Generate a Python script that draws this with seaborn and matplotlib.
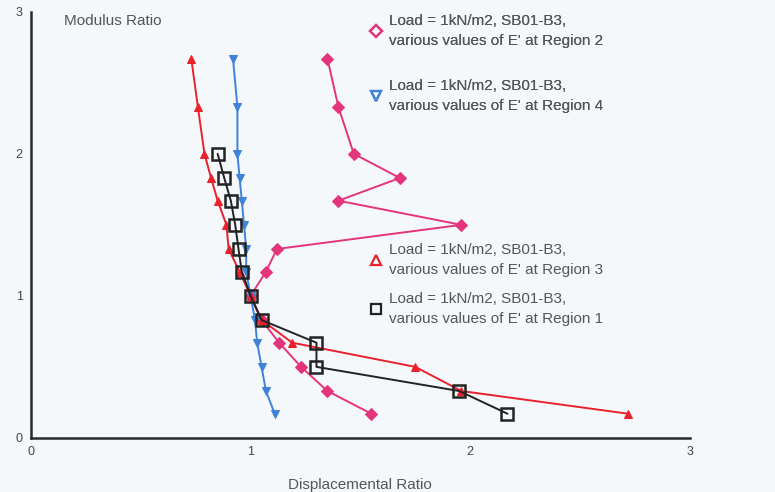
import matplotlib
matplotlib.use("Agg")
import matplotlib.pyplot as plt
from matplotlib.lines import Line2D
import seaborn as sns
import pandas as pd

# Data (displacement ratio vs modulus ratio)
y_levels = [2.67, 2.33, 2.0, 1.83, 1.67, 1.5, 1.33, 1.17, 1.0, 0.83, 0.67, 0.5, 0.33, 0.17]

region2_x = [1.35, 1.40, 1.47, 1.68, 1.40, 1.96, 1.12, 1.07, 1.0, 1.05, 1.13, 1.23, 1.35, 1.55]
region2_y = y_levels

region4_x = [0.92, 0.94, 0.94, 0.95, 0.96, 0.97, 0.98, 0.98, 1.0, 1.02, 1.03, 1.05, 1.07, 1.11]
region4_y = y_levels

region3_x = [0.73, 0.76, 0.79, 0.82, 0.85, 0.89, 0.90, 0.95, 1.0, 1.05, 1.19, 1.75, 1.96, 2.72]
region3_y = y_levels

region1_x = [0.85, 0.88, 0.91, 0.93, 0.945, 0.96, 1.0, 1.05, 1.30, 1.30, 1.95, 2.17]
region1_y = [2.0, 1.83, 1.67, 1.5, 1.33, 1.17, 1.0, 0.83, 0.67, 0.5, 0.33, 0.17]

label_l1 = "Load = 1kN/m2, SB01-B3,"
labels = {
    "Region 2": label_l1 + "\nvarious values of E' at Region 2",
    "Region 4": label_l1 + "\nvarious values of E' at Region 4",
    "Region 3": label_l1 + "\nvarious values of E' at Region 3",
    "Region 1": label_l1 + "\nvarious values of E' at Region 1",
}

pink = "#e4357c"
blue = "#3f82d8"
red = "#e8222c"
black = "#222222"
bg = "#f4f8fb"
text_col = "#555555"

sns.set_style("white")
plt.rcParams["font.family"] = ["Liberation Sans", "DejaVu Sans"]

fig = plt.figure(figsize=(7.75, 4.92), dpi=100, facecolor=bg)
ax = fig.add_axes([0.040, 0.110, 0.850, 0.866])
ax.set_facecolor(bg)

series = [
    (region2_x, region2_y, pink, "D", True),
    (region4_x, region4_y, blue, "v", True),
    (region3_x, region3_y, red, "^", True),
    (region1_x, region1_y, black, "s", False),
]
for xs, ys, col, mk, filled in series:
    df = pd.DataFrame({"x": xs, "y": ys})
    if filled:
        sns.lineplot(data=df, x="x", y="y", sort=False, estimator=None, ax=ax,
                     color=col, lw=1.4, marker=mk, markersize=6,
                     markeredgecolor=col, markerfacecolor=col)
    else:
        sns.lineplot(data=df, x="x", y="y", sort=False, estimator=None, ax=ax,
                     color=col, lw=1.4, marker=mk, markersize=8,
                     markeredgecolor=col, markerfacecolor="none", markeredgewidth=1.8)

ax.set_xlim(0, 3)
ax.set_ylim(0, 3)
ax.set_xticks([0, 1, 2, 3])
ax.set_yticks([0, 1, 2, 3])
ax.set_xticklabels(["0", "1", "2", "3"])
ax.set_yticklabels(["0", "1", "2", "3"])
ax.tick_params(direction="in", length=6, width=1.5, colors="#333333",
               labelsize=9, labelcolor="#444444", pad=6)
for side in ["top", "right"]:
    ax.spines[side].set_visible(False)
for side in ["left", "bottom"]:
    ax.spines[side].set_linewidth(1.8)
    ax.spines[side].set_color("#2a2a2a")

ax.set_xlabel("Displacemental Ratio", fontsize=11, color=text_col, labelpad=14)
ax.set_ylabel("")
ax.text(0.05, 0.995, "Modulus Ratio", transform=ax.transAxes, fontsize=11,
        color=text_col, va="top", ha="left")

def handle(col, mk, ms):
    return Line2D([], [], ls="none", marker=mk, markersize=ms, markerfacecolor="none",
                  markeredgecolor=col, markeredgewidth=1.6)

leg1 = fig.legend([handle(pink, "D", 6), handle(blue, "v", 7)],
                  [labels["Region 2"], labels["Region 4"]],
                  loc="upper left", bbox_to_anchor=(0.455, 1.0), frameon=False,
                  fontsize=11, labelspacing=2.05, handletextpad=0.3, handlelength=1.2,
                  labelcolor=text_col)
leg2 = fig.legend([handle(red, "^", 7), handle(black, "s", 7)],
                  [labels["Region 3"], labels["Region 1"]],
                  loc="upper left", bbox_to_anchor=(0.455, 0.535), frameon=False,
                  fontsize=11, labelspacing=1.0, handletextpad=0.3, handlelength=1.2,
                  labelcolor=text_col)
for leg in (leg1, leg2):
    for t in leg.get_texts():
        t.set_linespacing(1.55)
fig.add_artist(leg1)

fig.savefig("out.png", dpi=100, facecolor=bg)
